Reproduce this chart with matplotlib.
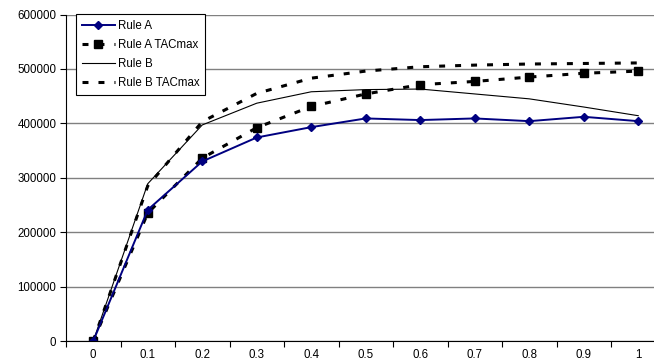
import matplotlib
matplotlib.use("Agg")
import matplotlib.pyplot as plt
import numpy as np

plt.rcParams['font.family'] = ['Liberation Sans', 'DejaVu Sans']
plt.rcParams['lines.scale_dashes'] = False

categories = ['0', '0.1', '0.2', '0.3', '0.4', '0.5', '0.6', '0.7', '0.8', '0.9', '1']
rule_a = [0, 241000, 330000, 374000, 393000, 409000, 406000, 409000, 404000, 412000, 404000]
rule_a_tac = [0, 235000, 336000, 392000, 431000, 454000, 471000, 477000, 485000, 492000, 496000]
rule_b = [0, 289000, 397000, 437000, 458000, 462000, 463000, 454000, 445000, 430000, 414000]
rule_b_tac = [0, 285000, 403000, 455000, 483000, 496000, 504000, 507000, 509000, 510000, 511000]
yticks = [0, 100000, 200000, 300000, 400000, 500000, 600000]

W, H = 654, 360
fs = 8.3
fig = plt.figure(figsize=(W / 100, H / 100), dpi=100)
ax = fig.add_axes([66 / W, (H - 341) / H, 599.5 / W, (341 - 14.5) / H])

x = np.arange(len(categories))
dash = (4.3, 7.2)

ax.plot(x, rule_a, color='#000080', lw=1.4, marker='D', ms=4.5, label='Rule A', zorder=5)
ax.plot(x, rule_a_tac, color='black', lw=2.2, dashes=dash, marker='s', ms=6, label='Rule A TACmax', zorder=4)
ax.plot(x, rule_b, color='black', lw=0.8, label='Rule B', zorder=3)
ax.plot(x, rule_b_tac, color='black', lw=2.2, dashes=dash, label='Rule B TACmax', zorder=3)

ax.set_xlim(-0.5, len(categories) - 0.5)
ax.set_ylim(0, 600000)
ax.set_yticks(yticks)
ax.set_yticklabels([str(v) for v in yticks])
ax.set_xticks(x)
ax.set_xticklabels(categories)
ax.set_xticks(np.arange(-0.5, len(categories), 1), minor=True)
ax.tick_params(axis='x', which='major', length=0, pad=6, labelsize=fs)
ax.tick_params(axis='x', which='minor', length=4, width=0.8, direction='out')
ax.tick_params(axis='y', length=4, width=0.8, direction='out', pad=3, labelsize=fs)

ax.grid(axis='y', color='#808080', lw=1)
ax.set_axisbelow(True)
for s in ['top', 'right']:
    ax.spines[s].set_visible(False)
ax.spines['left'].set_linewidth(0.8)
ax.spines['bottom'].set_linewidth(0.8)
ax.spines['bottom'].set_zorder(6)

leg = ax.legend(loc='upper left', bbox_to_anchor=(76 / W, 1 - 14 / H), bbox_transform=fig.transFigure,
                borderaxespad=0, fontsize=fs, frameon=True, fancybox=False, framealpha=1,
                handlelength=2.8, labelspacing=0.6, handletextpad=0.25, borderpad=0.55)
leg.get_frame().set_edgecolor('black')
leg.get_frame().set_linewidth(0.8)

fig.savefig('out.png', dpi=100)
